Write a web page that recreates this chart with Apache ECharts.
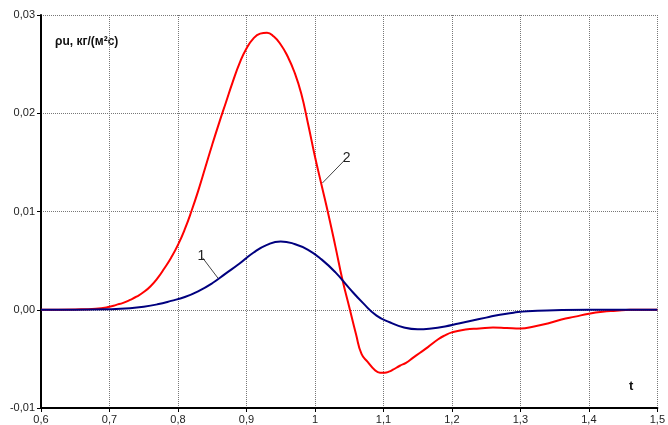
<!DOCTYPE html>
<html>
<head>
<meta charset="utf-8">
<script src="https://cdn.jsdelivr.net/npm/echarts@6/dist/echarts.min.js"></script>
<style>
  html, body { margin: 0; padding: 0; background: #fff; }
  #chart { width: 668px; height: 425px; }
</style>
</head>
<body>
<div id="chart"></div>
<script>
// Mass flux ρu versus time t for two cases
const tRed = [0.60, 0.65, 0.68, 0.70, 0.71, 0.72, 0.73, 0.74, 0.75, 0.76, 0.77, 0.78, 0.79, 0.80, 0.81, 0.82, 0.83, 0.84, 0.85, 0.86, 0.87, 0.88, 0.89, 0.90, 0.91, 0.92, 0.93, 0.94, 0.95, 0.96, 0.97, 0.98, 0.99, 1.00, 1.01, 1.02, 1.03, 1.04, 1.05, 1.06, 1.068, 1.077, 1.087, 1.095, 1.102, 1.108, 1.114, 1.124, 1.133, 1.143, 1.153, 1.165, 1.18, 1.19, 1.20, 1.22, 1.24, 1.26, 1.28, 1.30, 1.32, 1.34, 1.36, 1.38, 1.40, 1.42, 1.44, 1.46, 1.50];
const rhoRed = [0, 0.00003, 0.0001, 0.0003, 0.0005, 0.0007, 0.0010, 0.00135, 0.0018, 0.0024, 0.0032, 0.0042, 0.0053, 0.0066, 0.0082, 0.0101, 0.0122, 0.0145, 0.0168, 0.0190, 0.0211, 0.0232, 0.0251, 0.0266, 0.0276, 0.0281, 0.0282, 0.0278, 0.0270, 0.0258, 0.0242, 0.0220, 0.0189, 0.0156, 0.0126, 0.0096, 0.0064, 0.0031, 0.0003, -0.0025, -0.0045, -0.0053, -0.0061, -0.0064, -0.0064, -0.0063, -0.0061, -0.0057, -0.0054, -0.0049, -0.0044, -0.0038, -0.0030, -0.0026, -0.0023, -0.0020, -0.0019, -0.0018, -0.00185, -0.0019, -0.0017, -0.0014, -0.0010, -0.0007, -0.0004, -0.0002, -0.0001, 0, 0];

const tBlue = [0.60, 0.65, 0.70, 0.73, 0.75, 0.77, 0.79, 0.81, 0.83, 0.85, 0.87, 0.89, 0.91, 0.93, 0.95, 0.97, 0.99, 1.01, 1.03, 1.05, 1.07, 1.09, 1.11, 1.13, 1.15, 1.17, 1.19, 1.21, 1.23, 1.25, 1.27, 1.29, 1.31, 1.35, 1.40, 1.45, 1.50];
const rhoBlue = [0, 0, 0.00005, 0.00015, 0.0003, 0.00055, 0.0009, 0.0013, 0.0019, 0.0027, 0.0037, 0.0047, 0.0058, 0.0066, 0.00695, 0.0067, 0.0061, 0.0051, 0.0038, 0.0022, 0.0007, -0.0006, -0.0013, -0.0018, -0.00198, -0.0019, -0.0017, -0.0014, -0.0011, -0.0008, -0.0005, -0.0003, -0.00015, -0.00005, 0, 0, 0];

const xTicks = { min: 0.6, max: 1.5, step: 0.1 };
const yTicks = { min: -0.01, max: 0.03, step: 0.01 };

// Curve labels: [text, anchor on curve, label end]
const curveLabels = [
  ['1', [0.8586, 0.0032], [0.8358, 0.0053]],
  ['2', [1.0109, 0.0129], [1.0444, 0.0153]]
];

const pair = (xs, ys) => xs.map((x, i) => [x, ys[i]]);

const leader = (lbl) => ({
  silent: true,
  symbol: 'none',
  lineStyle: { color: '#444', width: 1, type: 'solid' },
  label: {
    show: true, position: 'start', formatter: lbl[0],
    fontFamily: 'Liberation Sans, Arial, sans-serif', fontSize: 14, color: '#222', distance: 2
  },
  data: [[{ coord: lbl[2] }, { coord: lbl[1] }]]
});

const chart = echarts.init(document.getElementById('chart'));
const axisFont = { fontFamily: 'Liberation Sans, Arial, sans-serif', fontSize: 11, color: '#222' };

chart.setOption({
  animation: false,
  backgroundColor: '#fff',
  grid: { left: 41, right: 10, top: 15, bottom: 17 },
  xAxis: {
    type: 'value', min: xTicks.min, max: xTicks.max, interval: xTicks.step,
    axisLine: { onZero: false, lineStyle: { color: '#000', width: 2 } },
    axisTick: { show: true, length: 4, lineStyle: { color: '#000', width: 1 } },
    axisLabel: Object.assign({ margin: 6, formatter: v => String(Math.round(v * 10) / 10).replace('.', ',') }, axisFont),
    splitLine: { show: true, lineStyle: { color: '#777', type: 'dotted', width: 1 } }
  },
  yAxis: {
    type: 'value', min: yTicks.min, max: yTicks.max, interval: yTicks.step,
    axisLine: { show: true, onZero: false, lineStyle: { color: '#000', width: 2 } },
    axisTick: { show: true, length: 4, lineStyle: { color: '#000', width: 1 } },
    axisLabel: Object.assign({ margin: 6, formatter: v => (Math.round(v * 100) / 100).toFixed(2).replace('.', ',') }, axisFont),
    splitLine: { show: true, lineStyle: { color: '#777', type: 'dotted', width: 1 } }
  },
  series: [
    {
      type: 'line', data: pair(tBlue, rhoBlue), smooth: 0.5,
      symbol: 'none', lineStyle: { color: '#00007f', width: 2 }, z: 3,
      markLine: leader(curveLabels[0])
    },
    {
      type: 'line', data: pair(tRed, rhoRed), smooth: 0.5,
      symbol: 'none', lineStyle: { color: '#ff0000', width: 2 }, z: 2,
      markLine: leader(curveLabels[1])
    }
  ],
  graphic: [
    {
      type: 'text', left: 55, top: 36,
      style: { text: 'ρu, кг/(м²с)', font: 'bold 12px "Liberation Sans", Arial, sans-serif', fill: '#111' }
    },
    {
      type: 'text', left: 629, top: 380,
      style: { text: 't', font: 'bold 13px "Liberation Sans", Arial, sans-serif', fill: '#111' }
    }
  ]
});
</script>
</body>
</html>
